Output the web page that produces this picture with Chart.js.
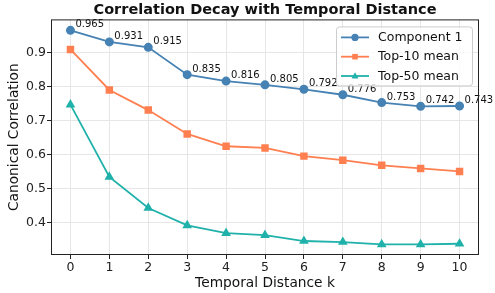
<!DOCTYPE html>
<html>
<head>
<meta charset="utf-8">
<script src="https://cdn.jsdelivr.net/npm/chart.js@4"></script>
<style>
  html, body { margin: 0; padding: 0; background: #fff; }
  canvas { display: block; }
</style>
</head>
<body>
<canvas id="decayChart" width="495" height="293"></canvas>
<script>
// data
const kValues = [0, 1, 2, 3, 4, 5, 6, 7, 8, 9, 10];
const comp1   = [0.965, 0.931, 0.915, 0.835, 0.816, 0.805, 0.792, 0.776, 0.753, 0.742, 0.743];
const top10   = [0.909, 0.790, 0.731, 0.661, 0.625, 0.620, 0.596, 0.584, 0.569, 0.560, 0.551];
const top50   = [0.747, 0.535, 0.444, 0.393, 0.370, 0.364, 0.347, 0.344, 0.337, 0.337, 0.339];
const yTicks  = [0.4, 0.5, 0.6, 0.7, 0.8, 0.9];

const FONT = "'DejaVu Sans', sans-serif";
const toXY = arr => arr.map((v, i) => ({ x: kValues[i], y: v }));

// value labels on Component 1 + box + matplotlib style legend
const extras = {
  id: "extras",
  afterDatasetsDraw(chart) {
    const ctx = chart.ctx;
    const meta = chart.getDatasetMeta(0);
    ctx.save();
    ctx.font = "10px " + FONT;
    ctx.fillStyle = "#111";
    ctx.textAlign = "left";
    ctx.textBaseline = "alphabetic";
    meta.data.forEach((pt, i) => {
      ctx.fillText(comp1[i].toFixed(3), pt.x + 5, pt.y - 3);
    });
    ctx.restore();
  },
  afterDraw(chart) {
    const { ctx, chartArea: a } = chart;
    ctx.save();
    ctx.strokeStyle = "#222";
    ctx.lineWidth = 1;
    ctx.strokeRect(a.left + 0.5, a.top + 0.5, a.right - a.left - 1, a.bottom - a.top - 1);

    // legend
    const w = 136, h = 59;
    const lx = a.right - 7 - w, ly = a.top + 7;
    ctx.beginPath();
    ctx.roundRect(lx + 0.5, ly + 0.5, w, h, 3);
    ctx.fillStyle = "rgba(255,255,255,0.8)";
    ctx.fill();
    ctx.strokeStyle = "#cccccc";
    ctx.stroke();

    ctx.font = "12.5px " + FONT;
    ctx.textBaseline = "middle";
    chart.data.datasets.forEach((ds, i) => {
      const y = ly + 11 + i * 19.3;
      const x0 = lx + 5, x1 = lx + 33, xm = (x0 + x1) / 2;
      ctx.strokeStyle = ds.borderColor;
      ctx.lineWidth = 1.8;
      ctx.beginPath(); ctx.moveTo(x0, y); ctx.lineTo(x1, y); ctx.stroke();
      ctx.fillStyle = ds.borderColor;
      ctx.beginPath();
      if (ds.pointStyle === "circle") ctx.arc(xm, y, 3.6, 0, Math.PI * 2);
      else if (ds.pointStyle === "rect") ctx.rect(xm - 2.8, y - 2.8, 5.6, 5.6);
      else { ctx.moveTo(xm, y - 3.8); ctx.lineTo(xm + 3.5, y + 2.6); ctx.lineTo(xm - 3.5, y + 2.6); ctx.closePath(); }
      ctx.fill();
      ctx.fillStyle = "#111";
      ctx.fillText(ds.label, lx + 42, y + 0.5);
    });
    ctx.restore();
  }
};

new Chart(document.getElementById("decayChart").getContext("2d"), {
  type: "line",
  data: {
    datasets: [
      { label: "Component 1", data: toXY(comp1), borderColor: "#4682B4", backgroundColor: "#4682B4",
        pointStyle: "circle", pointRadius: 3.6, borderWidth: 1.8 },
      { label: "Top-10 mean", data: toXY(top10), borderColor: "#FF7F50", backgroundColor: "#FF7F50",
        pointStyle: "rect", pointRadius: 4, borderWidth: 1.8 },
      { label: "Top-50 mean", data: toXY(top50), borderColor: "#20B2AA", backgroundColor: "#20B2AA",
        pointStyle: "triangle", pointRadius: 3.8, borderWidth: 1.8 }
    ]
  },
  options: {
    responsive: false,
    animation: false,
    devicePixelRatio: 1,
    layout: { padding: { left: 0, right: 16, top: 0, bottom: 0 } },
    elements: { line: { tension: 0 }, point: { borderWidth: 0 } },
    scales: {
      x: {
        type: "linear", min: -0.5, max: 10.5,
        afterBuildTicks: s => { s.ticks = kValues.map(v => ({ value: v })); },
        afterFit: s => { s.height = 38; },
        grid: { color: "#e6e6e6", tickColor: "#222", tickLength: 4, drawTicks: true },
        border: { display: false },
        ticks: { color: "#222", font: { family: FONT, size: 12.5 }, padding: 1, maxRotation: 0,
                 callback: v => String(v) },
        title: { display: true, text: "Temporal Distance k", color: "#111",
                 font: { family: FONT, size: 13.75 }, padding: { top: 0, bottom: 1 } }
      },
      y: {
        type: "linear", min: 0.306, max: 0.997,
        afterBuildTicks: s => { s.ticks = yTicks.map(v => ({ value: v })); },
        afterFit: s => { s.width = 51; },
        grid: { color: "#e6e6e6", tickColor: "#222", tickLength: 4, drawTicks: true },
        border: { display: false },
        ticks: { color: "#222", font: { family: FONT, size: 12.5 }, padding: 1,
                 callback: v => v.toFixed(1) },
        title: { display: true, text: "Canonical Correlation", color: "#111",
                 font: { family: FONT, size: 13.75 }, padding: { top: 6, bottom: 0 } }
      }
    },
    plugins: {
      legend: { display: false },
      tooltip: { enabled: false },
      title: { display: true, fullSize: false, text: "Correlation Decay with Temporal Distance", color: "#111",
               font: { family: FONT, size: 14.5, weight: "bold" }, padding: { top: 2, bottom: 0 } }
    }
  },
  plugins: [extras]
});
</script>
</body>
</html>
